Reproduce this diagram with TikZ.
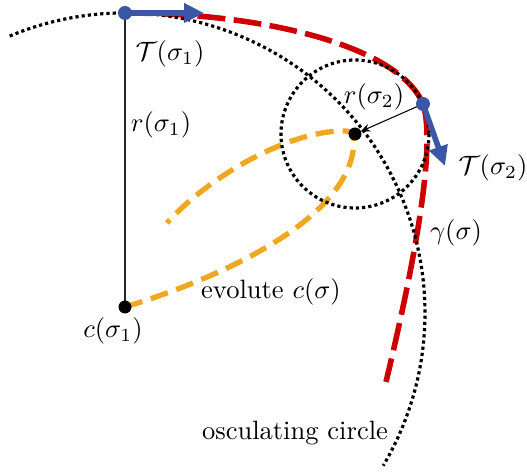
\documentclass[tikz,border=0pt]{standalone}
\usetikzlibrary{arrows.meta}
\definecolor{gred}{RGB}{204,0,0}
\definecolor{tblue}{RGB}{59,86,165}
\definecolor{evo}{RGB}{240,168,34}
\begin{document}
\begin{tikzpicture}[x=0.377pt,y=-0.377pt,
  curvestyle/.style={draw=gred,line width=2.1pt,dash pattern=on 10.5pt off 3.2pt},
  evostyle/.style={draw=evo,line width=2pt,dash pattern=on 6.8pt off 3.4pt},
  dotstyle/.style={draw=black,line width=1.2pt,dash pattern=on 1.2pt off 1.15pt},
  tanstyle/.style={draw=tblue,line width=2.1pt,-{Triangle[length=7.5pt,width=7pt]}},
  lab/.style={inner sep=0pt}]
\useasboundingbox (0,0) rectangle (527,473);
% points
\coordinate (s1) at (125,13);
\coordinate (s2) at (423,104);
\coordinate (c1) at (125,307);
\coordinate (c2) at (355,134);
\coordinate (oc) at (125,313);
\coordinate (t1) at (204,13);
\coordinate (t2) at (445,166);
\coordinate (gend) at (386,382);
\coordinate (eend) at (167,223);
% curve gamma
\draw[curvestyle] (s1) .. controls (270,13) and (400,48) .. (s2)
   .. controls (438,150) and (408,290) .. (gend);
% evolute
\draw[evostyle] (c1) .. controls (230,275) and (354,215) .. (354,140)
   .. controls (354,132) and (351,131) .. (343,131)
   .. controls (290,131) and (210,175) .. (eend);
% osculating circles
\draw[dotstyle] ([shift={(-112.6:300)}]oc) arc[start angle=-112.6,end angle=30.6,radius=300];
\draw[dotstyle] (c2) circle[radius=74];
% radii
\draw[line width=0.6pt,draw=black!85] (s1) -- (c1);
\draw[line width=0.4pt,-{Stealth[length=3.5pt,width=3pt]},shorten >=2.4pt] (s2) -- (c2);
% tangents
\draw[tanstyle] (s1) -- (t1);
\draw[tanstyle] (s2) -- (t2);
% dots
\fill[tblue] (s1) circle[radius=7];
\fill[tblue] (s2) circle[radius=7];
\fill[black] (c1) circle[radius=6.5];
\fill[black] (c2) circle[radius=6.5];
% labels
\node[lab] (lT1) at (170,54) {$\mathcal{T}(\sigma_1)$};
\node[lab] (lr1) at (161,125) {$r(\sigma_1)$};
\node[lab] (lr2) at (374,97) {$r(\sigma_2)$};
\node[lab] (lT2) at (493,168) {$\mathcal{T}(\sigma_2)$};
\node[lab] (lg) at (456,233) {$\gamma(\sigma)$};
\node[lab] (lev) at (271,292) {evolute $c(\sigma)$};
\node[lab] (lc1) at (113,331) {$c(\sigma_1)$};
\node[lab] (lo) at (295,433) {osculating circle};
\end{tikzpicture}
\end{document}
